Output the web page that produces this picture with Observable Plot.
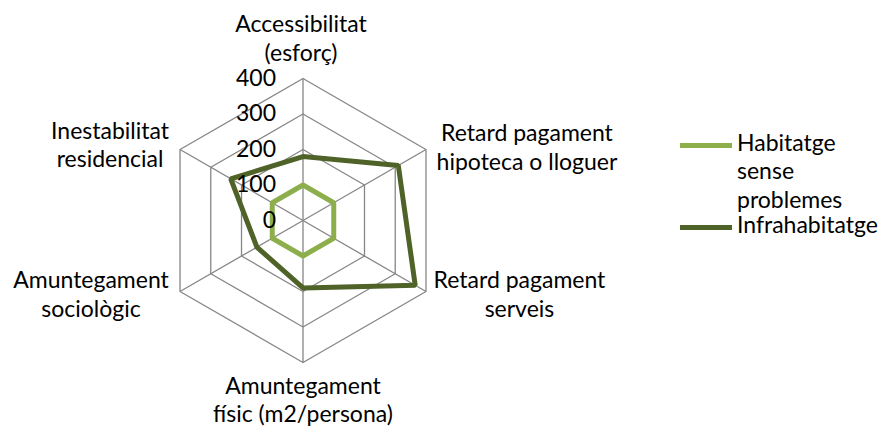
<!DOCTYPE html>
<html>
<head>
<meta charset="utf-8">
<script src="https://cdn.jsdelivr.net/npm/d3@7"></script>
<script src="https://cdn.jsdelivr.net/npm/@observablehq/plot@0.6"></script>
<style>
  html, body { margin: 0; padding: 0; background: #fff; }
  #wrap { position: relative; width: 878px; height: 427px; font-family: Lato, sans-serif; }
  #legend .entry { position: absolute; left: 680px; display: flex; align-items: flex-start; font-size: 23px; line-height: 28.5px; color: #000; }
  #legend .swatch { width: 52px; height: 5px; margin-top: 15px; margin-right: 5px; flex: none; }
  #legend .label { width: 118px; }
</style>
</head>
<body>
<div id="wrap">
  <div id="chart"></div>
  <div id="legend"></div>
</div>
<script>
// ---- data ----
const categories = [
  "Accessibilitat\n(esforç)",
  "Retard pagament\nhipoteca o lloguer",
  "Retard pagament\nserveis",
  "Amuntegament\nfísic (m2/persona)",
  "Amuntegament\nsociològic",
  "Inestabilitat\nresidencial"
];
const seriesNames = ["Habitatge sense problemes", "Infrahabitatge"];
const habitatgeSenseProblemes = [100, 100, 100, 100, 100, 100];
const infrahabitatge = [180, 310, 365, 190, 150, 235];
const tickValues = [0, 100, 200, 300, 400];

// ---- layout / style ----
const colors = ["#8CAF4C", "#4F6228"];
const W = 878, H = 427;
const cx = 302.5, cy = 220, rPx = 142;
const maxV = tickValues[tickValues.length - 1];
const k = rPx / maxV; // px per unit
// label block-centre offsets from each outer vertex, in pixels (dx right, dy down)
const labelOffsets = [[-2, -41], [101, -3], [93.5, 2], [0, 36.6], [-89, 2], [-70, -5.4]];

const ang = i => Math.PI / 2 - i * Math.PI / 3;
const px = (v, i) => v * Math.cos(ang(i));
const py = (v, i) => v * Math.sin(ang(i));

const rings = tickValues.filter(t => t > 0).flatMap(t =>
  categories.map((c, i) => ({t, x: px(t, i), y: py(t, i)})));
const spokes = categories.map((c, i) => ({i}));
const seriesValues = [habitatgeSenseProblemes, infrahabitatge];
const seriesRows = seriesValues.flatMap((vals, s) =>
  vals.map((v, i) => ({s: seriesNames[s], x: px(v, i), y: py(v, i)})));
const labelRows = categories.map((c, i) => ({c, i}));

const chart = Plot.plot({
  width: W,
  height: H,
  margin: 0,
  x: {domain: [-cx / k, (W - cx) / k], axis: null},
  y: {domain: [-(H - cy) / k, cy / k], axis: null},
  style: {fontFamily: "Lato, sans-serif", color: "#000", background: "#fff", overflow: "visible"},
  marks: [
    Plot.line(rings, {x: "x", y: "y", z: "t", curve: "linear-closed", stroke: "#868686", strokeWidth: 1.3}),
    Plot.link(spokes, {x1: d => 0, y1: d => 0, x2: d => px(maxV, d.i), y2: d => py(maxV, d.i), stroke: "#868686", strokeWidth: 1.3}),
    Plot.line(seriesRows, {x: "x", y: "y", z: "s", stroke: d => colors[seriesNames.indexOf(d.s)], curve: "linear-closed", strokeWidth: 5, strokeLinejoin: "miter"}),
    Plot.text(tickValues, {x: d => 0, y: d => d, text: d => String(d), textAnchor: "end", lineAnchor: "middle", dx: -27, fontSize: 23, fill: "#000"}),
    Plot.text(labelRows, {
      x: d => px(maxV, d.i) + labelOffsets[d.i][0] / k,
      y: d => py(maxV, d.i) - labelOffsets[d.i][1] / k,
      text: "c", textAnchor: "middle", lineAnchor: "middle", lineHeight: 1.24, fontSize: 23, fill: "#000"
    })
  ]
});
document.getElementById("chart").appendChild(chart);

// ---- legend (HTML) ----
const legendTops = [127.5, 210];
const legend = document.getElementById("legend");
seriesNames.forEach((name, s) => {
  const e = document.createElement("div");
  e.className = "entry";
  e.style.top = legendTops[s] + "px";
  const sw = document.createElement("div");
  sw.className = "swatch";
  sw.style.background = colors[s];
  const lb = document.createElement("div");
  lb.className = "label";
  lb.textContent = name;
  e.appendChild(sw);
  e.appendChild(lb);
  legend.appendChild(e);
});
</script>
</body>
</html>
